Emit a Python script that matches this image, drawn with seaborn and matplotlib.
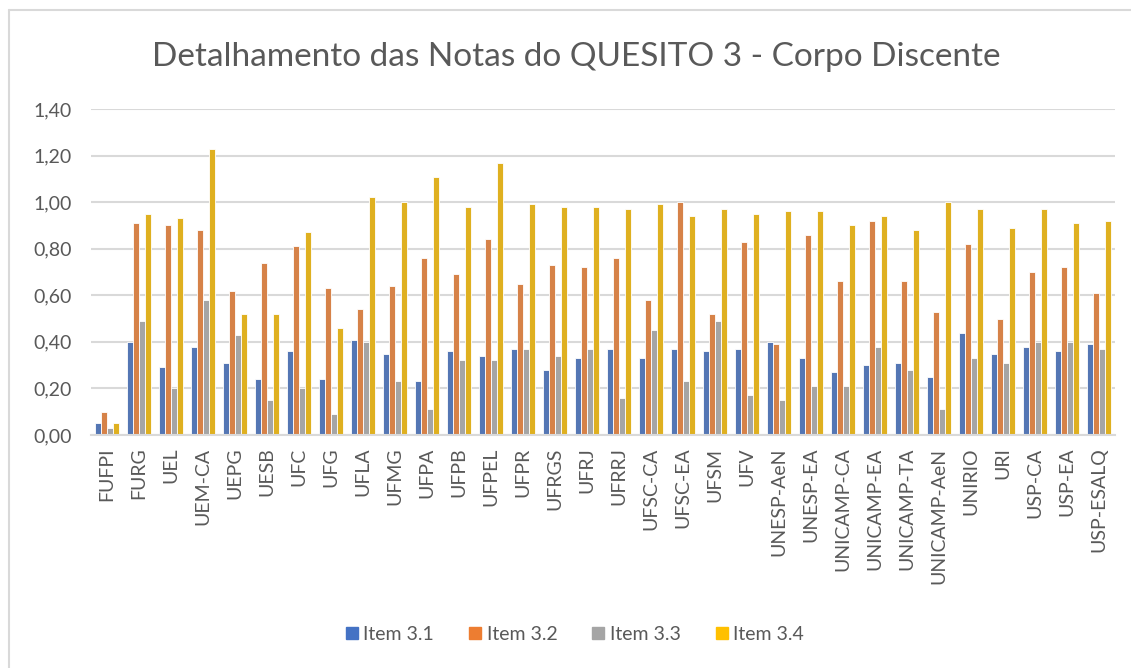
import pandas as pd
import seaborn as sns
import matplotlib.pyplot as plt
from matplotlib.lines import Line2D
from matplotlib.ticker import FuncFormatter

# Institutions (x axis)
institutions = [
    "FUFPI", "FURG", "UEL", "UEM-CA", "UEPG", "UESB", "UFC", "UFG", "UFLA",
    "UFMG", "UFPA", "UFPB", "UFPEL", "UFPR", "UFRGS", "UFRJ", "UFRRJ",
    "UFSC-CA", "UFSC-EA", "UFSM", "UFV", "UNESP-AeN", "UNESP-EA",
    "UNICAMP-CA", "UNICAMP-EA", "UNICAMP-TA", "UNICAMP-AeN", "UNIRIO",
    "URI", "USP-CA", "USP-EA", "USP-ESALQ",
]

series_names = ["Item 3.1", "Item 3.2", "Item 3.3", "Item 3.4"]

item_31 = [0.05, 0.40, 0.29, 0.38, 0.31, 0.24, 0.36, 0.24, 0.41,
           0.35, 0.23, 0.36, 0.34, 0.37, 0.28, 0.33, 0.37,
           0.33, 0.37, 0.36, 0.37, 0.40, 0.33,
           0.27, 0.30, 0.31, 0.25, 0.44,
           0.35, 0.38, 0.36, 0.39]
item_32 = [0.10, 0.91, 0.90, 0.88, 0.62, 0.74, 0.81, 0.63, 0.54,
           0.64, 0.76, 0.69, 0.84, 0.65, 0.73, 0.72, 0.76,
           0.58, 1.00, 0.52, 0.83, 0.39, 0.86,
           0.66, 0.92, 0.66, 0.53, 0.82,
           0.50, 0.70, 0.72, 0.61]
item_33 = [0.03, 0.49, 0.20, 0.58, 0.43, 0.15, 0.20, 0.09, 0.40,
           0.23, 0.11, 0.32, 0.32, 0.37, 0.34, 0.37, 0.16,
           0.45, 0.23, 0.49, 0.17, 0.15, 0.21,
           0.21, 0.38, 0.28, 0.11, 0.33,
           0.31, 0.40, 0.40, 0.37]
item_34 = [0.05, 0.95, 0.93, 1.23, 0.52, 0.52, 0.87, 0.46, 1.02,
           1.00, 1.11, 0.98, 1.17, 0.99, 0.98, 0.98, 0.97,
           0.99, 0.94, 0.97, 0.95, 0.96, 0.96,
           0.90, 0.94, 0.88, 1.00, 0.97,
           0.89, 0.97, 0.91, 0.92]

colors = ["#4472C4", "#ED7D31", "#A5A5A5", "#FFC000"]
text_color = "#595959"


def main():
    frames = []
    for name, vals in zip(series_names, [item_31, item_32, item_33, item_34]):
        frames.append(pd.DataFrame({"inst": institutions, "item": name, "nota": vals}))
    df = pd.concat(frames, ignore_index=True)

    sns.set_theme(style="white")
    plt.rcParams["font.family"] = ["Lato", "DejaVu Sans"]

    fig = plt.figure(figsize=(11.31, 6.68), dpi=100)
    ax = fig.add_axes([91 / 1131, 1 - 435 / 668, (1115 - 91) / 1131, (435 - 109) / 668])

    sns.barplot(
        data=df, x="inst", y="nota", hue="item", hue_order=series_names,
        order=institutions, palette=colors, width=0.74,
        edgecolor="white", linewidth=0.6, errorbar=None, ax=ax, legend=False,
    )

    ax.set_ylim(0, 1.40)
    ax.set_yticks([0.0, 0.2, 0.4, 0.6, 0.8, 1.0, 1.2, 1.4])
    ax.yaxis.set_major_formatter(FuncFormatter(lambda v, p: f"{v:.2f}".replace(".", ",")))
    ax.set_axisbelow(True)
    ax.yaxis.grid(True, color="#d9d9d9", linewidth=1.5)
    for side in ["top", "right", "left"]:
        ax.spines[side].set_visible(False)
    ax.spines["bottom"].set_color("#d9d9d9")
    ax.spines["bottom"].set_linewidth(1.5)
    ax.set_xlim(-0.5, len(institutions) - 0.5)
    ax.set_xlabel("")
    ax.set_ylabel("")
    ax.tick_params(axis="y", length=0, pad=14, labelsize=14, labelcolor=text_color)
    ax.tick_params(axis="x", length=0, pad=9, labelsize=14, labelcolor=text_color)
    for label in ax.get_xticklabels():
        label.set_rotation(90)

    fig.suptitle("Detalhamento das Notas do QUESITO 3 - Corpo Discente",
                 x=576 / 1131, y=1 - 57 / 668, va="center",
                 fontsize=24, color=text_color)

    handles = [Line2D([0], [0], marker="s", linestyle="", markersize=9,
                      markerfacecolor=c, markeredgecolor=c) for c in colors]
    fig.legend(handles, series_names, loc="center", bbox_to_anchor=(573 / 1131, 1 - 634 / 668),
               ncol=4, frameon=False, fontsize=14, labelcolor=text_color,
               handletextpad=0.1, columnspacing=1.6, handlelength=1.0)

    # Excel-style chart border (top and left edges visible)
    fig.add_artist(Line2D([9 / 1131, 9 / 1131], [0, 1 - 10 / 668], color="#d9d9d9", lw=1.5))
    fig.add_artist(Line2D([9 / 1131, 1], [1 - 10 / 668, 1 - 10 / 668], color="#d9d9d9", lw=1.5))

    fig.savefig("out.png", dpi=100)
    plt.close(fig)


if __name__ == "__main__":
    main()
